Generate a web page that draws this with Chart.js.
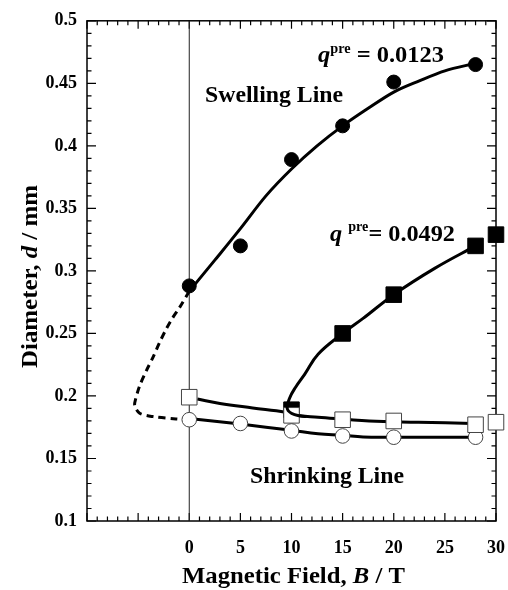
<!DOCTYPE html>
<html lang="en">
<head>
<meta charset="UTF-8">
<title>Diameter vs Magnetic Field</title>
<script src="https://cdn.jsdelivr.net/npm/chart.js"></script>
<style>
    * { margin: 0; padding: 0; box-sizing: border-box; }
    body { background: #fff; width: 508px; height: 590px; overflow: hidden; }
    #chart { display: block; }
</style>
</head>
<body>
<canvas id="chart" width="508" height="590"></canvas>
<script>
// tick labels
const xTickVals = [0, 5, 10, 15, 20, 25, 30];
const yTickVals = [0.1, 0.15, 0.2, 0.25, 0.3, 0.35, 0.4, 0.45, 0.5];

// measured points
const fieldSwell = [0, 5, 10, 15, 20, 28];
const diamSwell = [0.288, 0.320, 0.389, 0.416, 0.451, 0.465];
const fieldSwell2 = [10, 15, 20, 28, 30];
const diamSwell2 = [0.189, 0.250, 0.281, 0.320, 0.329];
const fieldShrinkSq = [0, 10, 15, 20, 28, 30];
const diamShrinkSq = [0.199, 0.1845, 0.181, 0.180, 0.177, 0.179];
const fieldShrinkCi = [0, 5, 10, 15, 20, 28];
const diamShrinkCi = [0.181, 0.178, 0.172, 0.168, 0.167, 0.167];

// drawn curves
const swellLineX = [0, 2.5, 5, 7.5, 10, 12.5, 15, 17.5, 20, 22.5, 25, 28];
const swellLineY = [0.2837, 0.3086, 0.3338, 0.3600, 0.3815, 0.400, 0.416, 0.430, 0.443, 0.452, 0.460, 0.466];
const dashX = [0, -0.97, -1.62, -2.27, -2.91, -3.56, -4.2, -4.85, -5.24, -5.34, -4.85, -3.56, -1.3, 0];
const dashY = [0.2837, 0.2704, 0.2625, 0.2532, 0.2426, 0.2307, 0.2201, 0.2081, 0.1976, 0.1923, 0.1862, 0.1835, 0.1816, 0.181];
const swell2LineX = [11.5, 10.3, 9.6, 9.8, 10.4, 11.3, 12.6, 15, 17, 20, 24, 28];
const swell2LineY = [0.1835, 0.185, 0.1895, 0.198, 0.207, 0.2175, 0.2334, 0.250, 0.262, 0.281, 0.302, 0.320];
const shrinkSqLineX = [0.8, 3, 6.2, 9.4, 10.4, 12.6, 17.6, 22.4, 27.7];
const shrinkSqLineY = [0.1976, 0.194, 0.1904, 0.187, 0.1845, 0.183, 0.180, 0.179, 0.178];
const shrinkCiLineX = [0, 5, 10, 12.6, 15, 17, 20, 28];
const shrinkCiLineY = [0.182, 0.1775, 0.1725, 0.1697, 0.1685, 0.1672, 0.167, 0.167];

const FONT = '"Liberation Serif", "Times New Roman", serif';

function pts(xs, ys) {
    return xs.map((x, i) => ({ x: x, y: ys[i] }));
}

function curve(xs, ys, extra) {
    return Object.assign({
        data: pts(xs, ys),
        showLine: true,
        borderColor: '#000',
        borderWidth: 3,
        pointRadius: 0,
        tension: 0.4,
        fill: false
    }, extra || {});
}

function markers(xs, ys, style, r, fill) {
    return {
        data: pts(xs, ys),
        showLine: false,
        pointStyle: style,
        pointRadius: r,
        pointBackgroundColor: fill,
        pointBorderColor: fill === '#000' ? '#000' : '#444',
        pointBorderWidth: 1,
        clip: false
    };
}

// draws a piece of text made of runs with different fonts, stretched to a width
function drawRuns(ctx, runs, x, y, width, angle) {
    ctx.save();
    let total = 0;
    runs.forEach(r => { ctx.font = r.f; total += ctx.measureText(r.t).width; });
    ctx.translate(x, y);
    if (angle) ctx.rotate(angle);
    ctx.scale(width / total, 1);
    ctx.fillStyle = '#000';
    ctx.textBaseline = 'alphabetic';
    ctx.textAlign = 'left';
    let cx = 0;
    runs.forEach(r => {
        ctx.font = r.f;
        ctx.fillText(r.t, cx, r.dy || 0);
        cx += ctx.measureText(r.t).width;
    });
    ctx.restore();
}

const frameTicks = {
    id: 'frameTicks',
    beforeDatasetsDraw(chart) {
        const { ctx, chartArea: a, scales: { x, y } } = chart;
        ctx.save();
        ctx.strokeStyle = '#000';
        ctx.lineWidth = 1.2;
        ctx.beginPath();
        for (let v = x.min; v <= x.max + 1e-9; v += 1) {
            const px = x.getPixelForValue(v);
            const len = Math.round(v) % 5 === 0 ? 8 : 4.5;
            ctx.moveTo(px, a.bottom); ctx.lineTo(px, a.bottom - len);
            ctx.moveTo(px, a.top); ctx.lineTo(px, a.top + len);
        }
        for (let i = 0; i <= 40; i++) {
            const v = y.min + i * 0.01;
            const py = y.getPixelForValue(v);
            const len = i % 5 === 0 ? 9 : 4.5;
            ctx.moveTo(a.left, py); ctx.lineTo(a.left + len, py);
            ctx.moveTo(a.right, py); ctx.lineTo(a.right - len, py);
        }
        ctx.stroke();
        ctx.lineWidth = 1.5;
        ctx.strokeRect(a.left, a.top, a.right - a.left, a.bottom - a.top);
        ctx.restore();
    },
    afterDraw(chart) {
        const ctx = chart.ctx;
        const b = 'bold 24px ' + FONT;
        const bi = 'italic bold 24px ' + FONT;
        const sup = 'bold 14px ' + FONT;
        drawRuns(ctx, [{ t: 'q', f: bi }, { t: 'pre', f: sup, dy: -9 }, { t: ' = 0.0123', f: b }], 318, 62, 126);
        drawRuns(ctx, [{ t: 'q ', f: bi }, { t: 'pre', f: sup, dy: -10 }, { t: '= 0.0492', f: b }], 330, 241, 125);
        drawRuns(ctx, [{ t: 'Swelling Line', f: b }], 205, 102, 138);
        drawRuns(ctx, [{ t: 'Shrinking Line', f: b }], 250, 483, 154);
        drawRuns(ctx, [{ t: 'Magnetic Field, ', f: b }, { t: 'B', f: bi }, { t: ' / T', f: b }], 182, 583, 223);
        drawRuns(ctx, [{ t: 'Diameter, ', f: b }, { t: 'd', f: bi }, { t: ' / mm', f: b }], 37, 368, 183, -Math.PI / 2);
    }
};

new Chart(document.getElementById('chart'), {
    type: 'scatter',
    data: {
        datasets: [
            curve(swell2LineX, swell2LineY),
            markers(fieldShrinkSq, diamShrinkSq, 'rect', 11, '#fff'),
            markers(fieldSwell2, diamSwell2, 'rect', 11, '#000'),
            markers(fieldShrinkCi, diamShrinkCi, 'circle', 7.3, '#fff'),
            markers(fieldSwell, diamSwell, 'circle', 7, '#000'),
            curve(swellLineX, swellLineY, { cubicInterpolationMode: 'monotone' }),
            curve(dashX, dashY, { borderDash: [7, 5], tension: 0.3 }),
            curve(shrinkSqLineX, shrinkSqLineY),
            curve(shrinkCiLineX, shrinkCiLineY),
            curve([0, 0], [0.1, 0.5], { borderWidth: 1, borderColor: '#222', tension: 0 })
        ]
    },
    options: {
        responsive: false,
        animation: false,
        layout: { padding: { top: 18, right: 10, left: 0, bottom: 0 } },
        plugins: { legend: { display: false }, tooltip: { enabled: false } },
        scales: {
            x: {
                type: 'linear',
                min: -10,
                max: 30,
                grid: { display: false, drawTicks: true, tickLength: 16 },
                border: { display: false },
                afterBuildTicks: s => { s.ticks = xTickVals.map(v => ({ value: v })); },
                afterFit: s => { s.height = 69; },
                ticks: {
                    autoSkip: false,
                    maxRotation: 0,
                    padding: 1,
                    color: '#000',
                    font: { family: FONT, size: 18, weight: 'bold' },
                    callback: v => String(v)
                }
            },
            y: {
                type: 'linear',
                min: 0.1,
                max: 0.5,
                grid: { display: false, drawTicks: false },
                border: { display: false },
                afterBuildTicks: s => { s.ticks = yTickVals.map(v => ({ value: v })); },
                afterFit: s => { s.width = 87; },
                ticks: {
                    autoSkip: false,
                    padding: 10,
                    color: '#000',
                    font: { family: FONT, size: 18, weight: 'bold' },
                    callback: v => String(+v.toFixed(2))
                }
            }
        }
    },
    plugins: [frameTicks]
});
</script>
</body>
</html>
